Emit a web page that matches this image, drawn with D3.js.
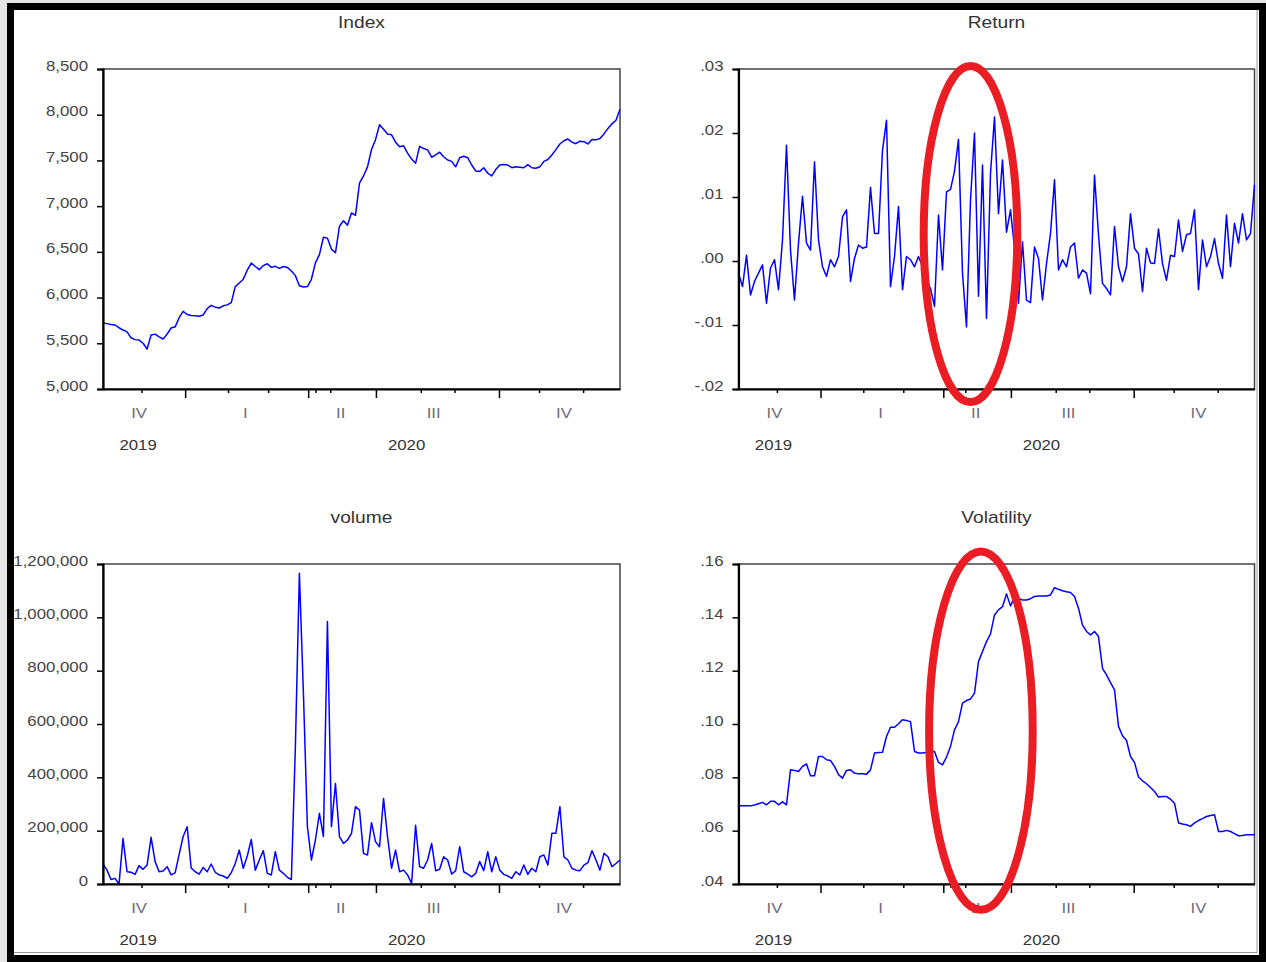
<!DOCTYPE html>
<html>
<head>
<meta charset="utf-8">
<script src="https://cdn.jsdelivr.net/npm/d3@7"></script>
<style>
  body { margin: 0; background: #fff; }
  svg { display: block; font-family: "Liberation Sans", Arial, sans-serif; }
</style>
</head>
<body>
<svg id="chart" width="1266" height="962"></svg>
<script>
// one value every second trading day, Nov 2019 - Dec 2020
const indexValues = [
  5722,5715,5705,5700,5670,5645,5625,5560,5540,5535,
  5500,5437,5590,5600,5570,5547,5600,5667,5680,5780,
  5849,5815,5805,5800,5795,5810,5880,5915,5895,5886,
  5910,5920,5945,6120,6160,6200,6300,6378,6340,6305,
  6350,6370,6330,6342,6320,6340,6330,6290,6240,6130,
  6115,6120,6200,6380,6470,6660,6650,6530,6490,6780,
  6840,6790,6925,6900,7253,7330,7430,7620,7727,7891,
  7840,7790,7780,7700,7650,7660,7580,7515,7470,7654,
  7630,7615,7535,7560,7590,7540,7505,7490,7430,7530,
  7545,7530,7450,7385,7380,7420,7360,7330,7400,7450,
  7455,7450,7420,7430,7425,7420,7455,7420,7415,7430,
  7490,7510,7560,7618,7680,7715,7734,7700,7683,7710,
  7705,7680,7730,7725,7740,7790,7850,7900,7940,8060
];

const returnValues = [
  -0.0019,-0.0040,0.0009,-0.0053,-0.0032,-0.0019,-0.0006,-0.0066,-0.0011,0.0002,
  -0.0045,0.0033,0.0181,0.0017,-0.0061,0.0028,0.0101,0.0028,0.0017,0.0155,
  0.0033,-0.0009,-0.0024,0.0002,-0.0009,0.0007,0.0069,0.0080,-0.0032,0.0004,
  0.0025,0.0020,0.0022,0.0115,0.0043,0.0043,0.0173,0.0220,-0.0040,0.0007,
  0.0085,-0.0045,0.0007,0.0002,-0.0009,0.0007,-0.0009,-0.0030,-0.0043,-0.0071,
  0.0072,-0.0014,0.0108,0.0112,0.0140,0.0190,-0.0019,-0.0103,0.0095,0.0200,
  -0.0055,0.0150,-0.0090,0.0137,0.0225,0.0074,0.0158,0.0045,0.0080,0.0020,
  -0.0066,0.0030,-0.0061,-0.0065,0.0022,0.0004,-0.0061,-0.0004,0.0043,0.0127,
  -0.0014,0.0002,-0.0009,0.0022,0.0028,-0.0027,-0.0014,-0.0019,-0.0051,0.0134,
  0.0041,-0.0035,-0.0043,-0.0053,0.0054,-0.0009,-0.0032,-0.0009,0.0074,0.0020,
  0.0011,-0.0048,0.0020,-0.0003,-0.0004,0.0050,-0.0004,-0.0030,0.0009,0.0007,
  0.0064,0.0015,0.0041,0.0043,0.0080,-0.0045,0.0033,-0.0009,0.0007,0.0035,
  -0.0004,-0.0027,0.0072,-0.0009,0.0059,0.0028,0.0074,0.0033,0.0043,0.0119
];

const volumeValues = [
  75000,52000,17000,21000,0,171000,46000,44000,36000,69000,
  55000,71000,175000,84000,46000,49000,65000,34000,42000,111000,
  178000,215000,60000,46000,37000,62000,46000,75000,44000,34000,
  30000,21000,42000,77000,127000,59000,105000,167000,52000,90000,
  125000,40000,34000,121000,52000,40000,25000,17000,515000,1165000,
  720000,215000,90000,165000,265000,178000,984000,215000,377000,178000,
  152000,165000,190000,290000,277000,115000,109000,230000,159000,140000,
  321000,177000,59000,127000,46000,52000,34000,2000,220000,65000,
  59000,90000,152000,50000,55000,102000,90000,37000,50000,140000,
  46000,37000,27000,40000,84000,50000,121000,46000,102000,52000,
  36000,30000,21000,46000,34000,71000,36000,59000,46000,102000,
  109000,71000,190000,190000,290000,102000,90000,59000,52000,50000,
  71000,80000,125000,90000,52000,115000,102000,65000,77000,90000
];

const volatilityValues = [
  0.0693,0.0693,0.0693,0.0693,0.0696,0.0701,0.0706,0.0697,0.0710,0.0710,
  0.0697,0.0708,0.0697,0.0828,0.0826,0.0822,0.0841,0.0850,0.0806,0.0806,
  0.0878,0.0878,0.0866,0.0863,0.0841,0.0810,0.0797,0.0826,0.0828,0.0816,
  0.0813,0.0813,0.0812,0.0828,0.0891,0.0893,0.0894,0.0953,0.0988,0.0988,
  0.1001,0.1016,0.1013,0.1009,0.0897,0.0891,0.0891,0.0893,0.0897,0.0897,
  0.0856,0.0847,0.0876,0.0916,0.0978,0.1009,0.1078,0.1088,0.1094,0.1116,
  0.1234,0.1272,0.1309,0.1338,0.1409,0.1428,0.1440,0.1488,0.1443,0.1475,
  0.1471,0.1465,0.1465,0.1470,0.1478,0.1480,0.1480,0.1480,0.1484,0.1511,
  0.1505,0.1500,0.1496,0.1493,0.1478,0.1434,0.1371,0.1347,0.1334,0.1347,
  0.1328,0.1209,0.1184,0.1155,0.1128,0.0991,0.0956,0.0938,0.0878,0.0856,
  0.0801,0.0787,0.0776,0.0762,0.0747,0.0726,0.0728,0.0728,0.0718,0.0703,
  0.0629,0.0625,0.0622,0.0616,0.0629,0.0638,0.0645,0.0653,0.0657,0.0660,
  0.0597,0.0597,0.0601,0.0597,0.0589,0.0581,0.0582,0.0585,0.0585,0.0585
];

const indexTicks = [5000, 5500, 6000, 6500, 7000, 7500, 8000, 8500];
const returnTicks = [-0.02, -0.01, 0, 0.01, 0.02, 0.03];
const volumeTicks = [0, 200000, 400000, 600000, 800000, 1000000, 1200000];
const volatilityTicks = [0.04, 0.06, 0.08, 0.10, 0.12, 0.14, 0.16];

// x positions in observation steps (month starts / quarter starts)
const monthTicks = [9.6, 31.2, 41.2, 53, 56.7, 79.3, 87.7, 108.8, 119.8];
const quarterTicks = [20.5, 51.2, 68.1, 98.8];
const quarterLabels = ["IV", "I", "II", "III", "IV"];
const quarterLabelPos = [9, 35.5, 59.3, 82.5, 115];
const yearLabels = ["2019", "2020"];
const yearLabelPos = [8.75, 75.75];

// red circled regions: centre in (step, value), radii in the same units
const highlights = [
  { panel: "Return", cx: 58, cy: 0.0042, rx: 11.7, ry: 0.02625 },
  { panel: "Volatility", cx: 60.6, cy: 0.0975, rx: 12.95, ry: 0.0672 }
];

const W = 1266, H = 962;
const SX = 1.2;   // the source picture is stretched sideways
const svg = d3.select("#chart");

svg.append("rect").attr("width", W).attr("height", H).attr("fill", "#e6e6e6");
svg.append("rect").attr("x", 10).attr("y", 6).attr("width", 1253).attr("height", 953).attr("fill", "#fff");

const decFmt = v => v.toFixed(2).replace(/^(-?)0\./, "$1.");

const panels = [
  { title: "Index", values: indexValues, domain: [5000, 8500], ticks: indexTicks, fmt: d3.format(","), left: 103, right: 620, top: 69, bottom: 389 },
  { title: "Return", values: returnValues, domain: [-0.02, 0.03], ticks: returnTicks, fmt: decFmt, left: 738.5, right: 1254.5, top: 69, bottom: 389 },
  { title: "volume", values: volumeValues, domain: [0, 1200000], ticks: volumeTicks, fmt: d3.format(","), left: 103, right: 620, top: 564, bottom: 884 },
  { title: "Volatility", values: volatilityValues, domain: [0.04, 0.16], ticks: volatilityTicks, fmt: decFmt, left: 738.5, right: 1254.5, top: 564, bottom: 884 }
];

function wideText(g, x, y, str, size, anchor, color) {
  return g.append("text")
    .attr("transform", `translate(${x},${y}) scale(${SX},1)`)
    .attr("text-anchor", anchor)
    .attr("font-size", size)
    .attr("fill", color)
    .text(str);
}

const scales = {};

panels.forEach(p => {
  const x = d3.scaleLinear().domain([0, p.values.length - 1]).range([p.left, p.right]);
  const y = d3.scaleLinear().domain(p.domain).range([p.bottom, p.top]);
  scales[p.title] = { x, y };
  const g = svg.append("g");

  // title
  wideText(g, (p.left + p.right) / 2, p.top - 41, p.title, 16, "middle", "#333");

  // frame
  g.append("rect")
    .attr("x", p.left).attr("y", p.top)
    .attr("width", p.right - p.left).attr("height", p.bottom - p.top)
    .attr("fill", "none").attr("stroke", "#444").attr("stroke-width", 1.5);

  // series
  const line = d3.line().x((d, i) => x(i)).y(d => y(d));
  g.append("path")
    .datum(p.values)
    .attr("d", line)
    .attr("fill", "none")
    .attr("stroke", "#0000ff")
    .attr("stroke-width", 1.5)
    .attr("stroke-linejoin", "round");

  // y axis
  const yAxis = g.append("g")
    .attr("transform", `translate(${p.left},0)`)
    .call(d3.axisLeft(y).tickValues(p.ticks).tickSize(6).tickFormat(""));
  yAxis.select(".domain").attr("stroke", "#000").attr("stroke-width", 2.2);
  yAxis.selectAll(".tick line").attr("stroke", "#000").attr("stroke-width", 1.5);
  p.ticks.forEach(t => wideText(g, p.left - 15, y(t) + 1.5, p.fmt(t), 14, "end", "#444"));

  // x axis: month ticks short, quarter ticks long
  const xm = g.append("g")
    .attr("transform", `translate(0,${p.bottom})`)
    .call(d3.axisBottom(x).tickValues(monthTicks).tickSize(4).tickFormat("").tickSizeOuter(0));
  xm.select(".domain").attr("stroke", "#000").attr("stroke-width", 2.2);
  xm.selectAll(".tick line").attr("stroke", "#000").attr("stroke-width", 1.5);
  const xq = g.append("g")
    .attr("transform", `translate(0,${p.bottom})`)
    .call(d3.axisBottom(x).tickValues(quarterTicks).tickSize(9).tickFormat("").tickSizeOuter(0));
  xq.select(".domain").remove();
  xq.selectAll(".tick line").attr("stroke", "#000").attr("stroke-width", 1.5);

  quarterLabels.forEach((q, i) => wideText(g, x(quarterLabelPos[i]), p.bottom + 28.5, q, 14, "middle", "#6c6c7c"));
  yearLabels.forEach((yr, i) => wideText(g, x(yearLabelPos[i]), p.bottom + 60.5, yr, 14, "middle", "#333"));
});

// red ellipses
highlights.forEach(h => {
  const { x, y } = scales[h.panel];
  svg.append("ellipse")
    .attr("cx", x(h.cx))
    .attr("cy", y(h.cy))
    .attr("rx", x(h.cx + h.rx) - x(h.cx))
    .attr("ry", y(h.cy - h.ry) - y(h.cy))
    .attr("fill", "none")
    .attr("stroke", "#ea1c24")
    .attr("stroke-width", 8);
});

// outer frame
svg.append("line").attr("x1", 1257).attr("x2", 1257).attr("y1", 8).attr("y2", 953).attr("stroke", "#999").attr("stroke-width", 1);
svg.append("line").attr("x1", 12).attr("x2", 1257).attr("y1", 952.5).attr("y2", 952.5).attr("stroke", "#999").attr("stroke-width", 1);
svg.append("rect")
  .attr("x", 10.5).attr("y", 6.5).attr("width", 1252).attr("height", 952)
  .attr("fill", "none").attr("stroke", "#000").attr("stroke-width", 7);
</script>
</body>
</html>
